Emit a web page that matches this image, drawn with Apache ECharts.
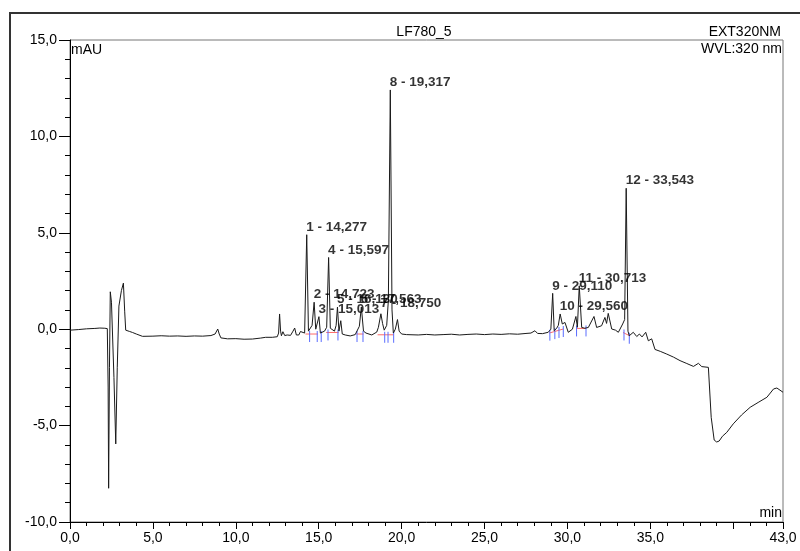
<!DOCTYPE html>
<html>
<head>
<meta charset="utf-8">
<script src="https://cdn.jsdelivr.net/npm/echarts@6/dist/echarts.min.js"></script>
<style>
html,body{margin:0;padding:0;background:#fff;}
#main{width:800px;height:551px;}
</style>
</head>
<body>
<div id="main"></div>
<script>
// Retention time (min)
var time = [0.00,0.50,1.00,1.50,1.80,2.10,2.25,2.30,2.33,2.38,2.43,2.50,2.58,2.65,2.76,2.85,2.95,3.10,3.22,3.30,3.36,3.60,3.77,4.00,4.37,5.00,5.50,6.00,6.50,7.00,7.50,8.00,8.50,8.75,8.91,9.00,9.10,9.50,10.00,10.50,11.00,11.50,11.80,12.20,12.50,12.58,12.64,12.70,12.75,12.84,12.95,13.10,13.30,13.45,13.55,13.65,13.80,13.90,14.00,14.15,14.277,14.38,14.50,14.60,14.723,14.82,14.90,15.013,15.10,15.20,15.35,15.48,15.597,15.70,15.80,15.95,16.05,16.13,16.22,16.33,16.42,16.60,16.90,17.20,17.45,17.57,17.70,17.85,18.20,18.50,18.60,18.75,18.85,18.95,19.10,19.20,19.317,19.42,19.50,19.62,19.75,19.85,20.00,20.30,21.00,21.50,22.00,22.50,23.00,23.50,24.00,24.50,25.00,25.50,26.00,26.50,27.00,27.50,27.80,28.04,28.20,28.50,28.84,29.00,29.11,29.20,29.35,29.45,29.56,29.69,29.85,30.05,30.30,30.51,30.60,30.713,30.86,31.05,31.26,31.60,31.76,32.06,32.26,32.36,32.46,32.67,32.90,33.07,33.33,33.45,33.543,33.65,33.73,33.97,34.18,34.34,34.50,34.72,34.88,35.08,35.28,35.60,35.99,36.40,36.79,37.20,37.60,37.90,38.10,38.50,38.55,38.67,38.85,39.00,39.15,39.35,39.61,40.00,40.50,41.02,41.50,42.03,42.43,42.63,43.00];
// Absorbance (mAU)
var signal = [-0.05,-0.02,0.02,0.04,0.06,0.05,0.03,-3.0,-8.25,-2.0,1.94,1.40,1.30,-2.5,-5.95,-2.0,1.2,2.0,2.39,0.9,-0.05,-0.12,-0.17,-0.25,-0.37,-0.36,-0.34,-0.36,-0.35,-0.37,-0.35,-0.36,-0.33,-0.25,0.01,-0.25,-0.45,-0.50,-0.49,-0.52,-0.51,-0.46,-0.42,-0.42,-0.39,-0.2,0.79,-0.1,-0.34,-0.13,-0.33,-0.30,-0.32,-0.10,0.06,-0.30,-0.30,-0.12,-0.05,-0.20,4.90,-0.10,-0.05,0.20,1.40,0.00,-0.10,0.65,-0.20,-0.25,-0.10,0.10,3.72,0.05,0.00,-0.10,0.20,1.15,-0.10,0.44,-0.25,-0.30,-0.35,-0.28,0.15,1.15,-0.10,-0.20,-0.30,-0.15,0.10,0.80,0.30,-0.05,0.20,1.50,12.41,1.00,-0.20,0.00,0.50,-0.10,-0.25,-0.28,-0.30,-0.27,-0.30,-0.28,-0.26,-0.30,-0.27,-0.25,-0.28,-0.25,-0.27,-0.24,-0.26,-0.22,-0.20,-0.08,-0.22,-0.23,-0.16,0.00,1.86,-0.08,0.05,0.20,0.79,0.27,0.35,-0.16,0.00,0.66,0.10,2.25,0.09,0.05,0.09,0.66,0.09,0.18,0.61,0.30,0.82,0.01,-0.05,-0.16,0.27,0.50,7.31,-0.10,-0.34,-0.16,-0.38,-0.25,-0.40,-0.16,-0.60,-0.50,-1.05,-1.15,-1.29,-1.45,-1.63,-1.78,-1.93,-1.77,-1.94,-1.98,-2.05,-4.57,-5.75,-5.85,-5.80,-5.55,-5.35,-4.91,-4.45,-4.05,-3.80,-3.53,-3.10,-3.05,-3.27];

// Peak annotations
var peakTimes  = [14.277,14.723,15.013,15.597,16.13,17.57,18.75,19.317,29.110,29.560,30.713,33.543];
var peakHeights= [4.90,1.40,0.65,3.72,1.15,1.15,0.95,12.41,1.86,0.79,2.25,7.31];
var peakLabels = ["1 - 14,277","2 - 14,723","3 - 15,013","4 - 15,597","5 - 16,130","6 - 17,563","7 - 18,750","8 - 19,317","9 - 29,110","10 - 29,560","11 - 30,713","12 - 33,543"];

// Integration markers: peak delimiters (time, baseline level) and baseline segments
var delimTimes  = [14.45,14.91,15.15,15.56,16.16,17.31,17.67,18.98,19.18,19.52,28.94,29.24,29.49,29.75,30.55,31.12,33.41,33.73];
var delimLevels = [-0.25,-0.25,-0.25,-0.17,-0.17,-0.25,-0.25,-0.29,-0.29,-0.29,-0.18,-0.10,-0.04,0.01,0.04,0.04,-0.17,-0.34];
var baseStartT = [14.20,15.45,17.28,18.55,28.90,30.58,33.35];
var baseStartV = [-0.25,-0.17,-0.25,-0.29,-0.20,0.04,-0.17];
var baseEndT   = [14.95,16.20,17.70,19.52,29.75,31.12,33.75];
var baseEndV   = [-0.25,-0.17,-0.25,-0.29,0.01,0.04,-0.34];

var xMajorTicks = [0,5,10,15,20,25,30,35,40,43];
var xTickLabels = [0,5,10,15,20,25,30,35,43];

var FONT = "'Liberation Sans', Arial, Helvetica, sans-serif";
function fmt(v){ return v.toFixed(1).replace('.', ','); }

var traceData = time.map(function(t,i){ return [t, signal[i]]; });
var peakData = peakTimes.map(function(t,i){ return {value:[t, peakHeights[i]], name: peakLabels[i]}; });
var delimData = delimTimes.map(function(t,i){ return [t, delimLevels[i]]; });
var baseData = baseStartT.map(function(t,i){ return [t, baseStartV[i], baseEndT[i], baseEndV[i]]; });

var chart = echarts.init(document.getElementById('main'), null, {renderer:'canvas'});
chart.setOption({
  animation: false,
  backgroundColor: '#fff',
  grid: {left: 70, right: 17, top: 40, bottom: 29, show: true, borderColor: '#777', borderWidth: 1},
  xAxis: [{
    type: 'value', min: 0, max: 43, interval: 1, position: 'bottom',
    axisLine: {show: true, onZero: false, lineStyle: {color: '#000', width: 1}},
    axisTick: {show: true, length: 4, lineStyle: {color: '#000'}},
    axisLabel: {show: false},
    splitLine: {show: false}
  },{
    type: 'value', min: 0, max: 43, interval: 5, position: 'bottom', gridIndex: 0,
    axisLine: {show: false, onZero: false},
    axisTick: {show: true, length: 7, customValues: xMajorTicks, lineStyle: {color: '#000'}},
    axisLabel: {show: true, customValues: xTickLabels, margin: 9, fontSize: 14, color: '#000', fontFamily: FONT,
      formatter: function(v){ return fmt(v); }},
    splitLine: {show: false}
  }],
  yAxis: {
    type: 'value', min: -10, max: 15, interval: 5,
    axisLine: {show: true, onZero: false, lineStyle: {color: '#000', width: 1}},
    axisTick: {show: true, length: 11, lineStyle: {color: '#000'}},
    minorTick: {show: true, splitNumber: 5, length: 5, lineStyle: {color: '#000'}},
    axisLabel: {margin: 13, fontSize: 14, color: '#000', fontFamily: FONT, formatter: function(v){ return fmt(v); }},
    splitLine: {show: false}
  },
  series: [{
    type: 'custom', xAxisIndex: 0, data: baseData, silent: true, z: 2,
    renderItem: function(params, api){
      var p1 = api.coord([api.value(0), api.value(1)]);
      var p2 = api.coord([api.value(2), api.value(3)]);
      return {type: 'line', shape: {x1: p1[0], y1: p1[1], x2: p2[0], y2: p2[1]},
        style: {stroke: '#ff6b6b', lineWidth: 1}};
    }
  },{
    type: 'custom', xAxisIndex: 0, data: delimData, silent: true, z: 2,
    renderItem: function(params, api){
      var p = api.coord([api.value(0), api.value(1)]);
      return {type: 'line', shape: {x1: p[0], y1: p[1] - 3, x2: p[0], y2: p[1] + 8},
        style: {stroke: '#5a6cff', lineWidth: 1}};
    }
  },{
    type: 'line', xAxisIndex: 0, data: traceData, showSymbol: false, symbol: 'none',
    lineStyle: {color: '#1a1a1a', width: 1}, silent: true, z: 3
  },{
    type: 'scatter', xAxisIndex: 0, data: peakData, symbolSize: 1,
    itemStyle: {color: 'rgba(0,0,0,0)'}, z: 4,
    label: {show: true, position: [0, 0], align: 'left', verticalAlign: 'bottom',
      formatter: function(p){ return p.name; },
      fontSize: 13.5, fontWeight: 'bold', color: '#000', fontFamily: FONT}
  }],
  graphic: [
    {type: 'rect', shape: {x: 10, y: 13, width: 800, height: 600}, style: {fill: 'none', stroke: '#333', lineWidth: 2}, silent: true},
    {type: 'text', x: 424, y: 32, style: {text: 'LF780_5', font: '14px ' + FONT, fill: '#000', textAlign: 'center', textVerticalAlign: 'middle'}},
    {type: 'text', x: 781, y: 32, style: {text: 'EXT320NM', font: '14px ' + FONT, fill: '#000', textAlign: 'right', textVerticalAlign: 'middle'}},
    {type: 'text', x: 782, y: 49.5, style: {text: 'WVL:320 nm', font: '14px ' + FONT, fill: '#000', textAlign: 'right', textVerticalAlign: 'middle'}},
    {type: 'text', x: 71, y: 50, style: {text: 'mAU', font: '14px ' + FONT, fill: '#000', textAlign: 'left', textVerticalAlign: 'middle'}},
    {type: 'text', x: 782, y: 513, style: {text: 'min', font: '14px ' + FONT, fill: '#000', textAlign: 'right', textVerticalAlign: 'middle'}}
  ]
});
</script>
</body>
</html>
